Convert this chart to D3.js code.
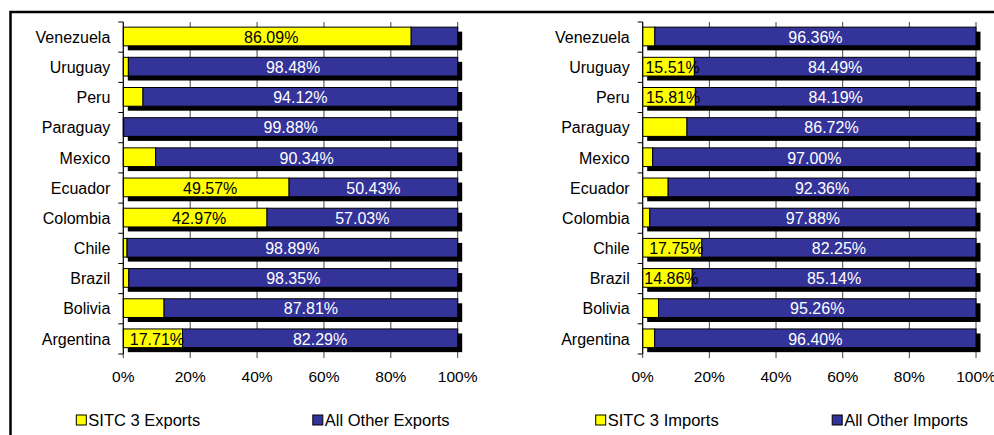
<!DOCTYPE html>
<html>
<head>
<meta charset="utf-8">
<title>SITC 3 share</title>
<script src="https://d3js.org/d3.v7.min.js"></script>
<style>
	body { margin: 0; background: #fff; }
	text { font-family: "Liberation Sans", Arial, sans-serif; }
</style>
</head>
<body>
<div id="wrapper"></div>
<script>
	// data (percent of total trade)
	var countries = ["Venezuela", "Uruguay", "Peru", "Paraguay", "Mexico", "Ecuador",
		"Colombia", "Chile", "Brazil", "Bolivia", "Argentina"];
	var sitcExports  = [86.09, 1.52, 5.88, 0.12, 9.66, 49.57, 42.97, 1.11, 1.65, 12.19, 17.71];
	var otherExports = [13.91, 98.48, 94.12, 99.88, 90.34, 50.43, 57.03, 98.89, 98.35, 87.81, 82.29];
	var sitcImports  = [3.64, 15.51, 15.81, 13.28, 3.00, 7.64, 2.12, 17.75, 14.86, 4.74, 3.60];
	var otherImports = [96.36, 84.49, 84.19, 86.72, 97.00, 92.36, 97.88, 82.25, 85.14, 95.26, 96.40];
	var xTicks = [0, 20, 40, 60, 80, 100];
	var exportNames = ["SITC 3 Exports", "All Other Exports"];
	var importNames = ["SITC 3 Imports", "All Other Imports"];

	var w = 994;
	var h = 435;
	var yellow = "#ffff00";
	var blue = "#333399";
	var fontSize = "16px";

	var svg = d3.select("#wrapper")
				.append("svg")
				.attr("width", w)
				.attr("height", h);

	// frame (top and left edges of the chart area)
	svg.append("path")
		.attr("d", "M10.5,435V12H994")
		.style("fill", "none")
		.style("stroke", "black")
		.style("stroke-width", 2.5);

	var y = d3.scaleBand()
			.domain(countries)
			.range([22, 354]);

	function panel(left, right, share, other, names) {
		var x = d3.scaleLinear().domain([0, 100]).range([left, right]);
		var bw = y.bandwidth();
		var barY = function(c) { return y(c) + bw * 0.17; };
		var barH = bw * 0.62;
		var g = svg.append("g");

		// vertical gridlines, continuing below as axis ticks
		g.selectAll("line.grid")
			.data(xTicks)
			.enter()
			.append("line")
			.attr("x1", function(d) { return x(d); })
			.attr("x2", function(d) { return x(d); })
			.attr("y1", 22)
			.attr("y2", 358)
			.style("stroke", "#444")
			.style("stroke-width", 1);

		// shadows
		g.selectAll("rect.shadow")
			.data(countries)
			.enter()
			.append("rect")
			.attr("x", x(0) + 4.5)
			.attr("y", function(c) { return barY(c) + 4.5; })
			.attr("width", x(100) - x(0))
			.attr("height", barH)
			.style("fill", "black");

		// SITC 3 segments
		g.selectAll("rect.share")
			.data(countries)
			.enter()
			.append("rect")
			.attr("x", x(0))
			.attr("y", barY)
			.attr("width", function(c, i) { return x(share[i]) - x(0); })
			.attr("height", barH)
			.style("fill", yellow)
			.style("stroke", "black");

		// other segments
		g.selectAll("rect.other")
			.data(countries)
			.enter()
			.append("rect")
			.attr("x", function(c, i) { return x(share[i]); })
			.attr("y", barY)
			.attr("width", function(c, i) { return x(100) - x(share[i]); })
			.attr("height", barH)
			.style("fill", blue)
			.style("stroke", "black");

		// data labels (only the wide segments carry one)
		countries.forEach(function(c, i) {
			var cy = y(c) + bw / 2;
			if (share[i] >= 14.5) {
				g.append("text")
					.attr("x", x(share[i] / 2) + 4)
					.attr("y", cy)
					.attr("dy", "0.36em")
					.attr("text-anchor", "middle")
					.style("font-size", fontSize)
					.style("fill", "black")
					.text(share[i].toFixed(2) + "%");
			}
			if (other[i] >= 14.5) {
				g.append("text")
					.attr("x", x(share[i] + other[i] / 2))
					.attr("y", cy)
					.attr("dy", "0.36em")
					.attr("text-anchor", "middle")
					.style("font-size", fontSize)
					.style("fill", "white")
					.text(other[i].toFixed(2) + "%");
			}
		});

		// category axis
		g.append("line")
			.attr("x1", x(0)).attr("x2", x(0))
			.attr("y1", 22).attr("y2", 354)
			.style("stroke", "black");
		g.selectAll("line.ytick")
			.data(countries.concat([null]))
			.enter()
			.append("line")
			.attr("x1", x(0) - 5)
			.attr("x2", x(0))
			.attr("y1", function(c) { return c === null ? 354 : y(c); })
			.attr("y2", function(c) { return c === null ? 354 : y(c); })
			.style("stroke", "black");
		g.selectAll("text.cat")
			.data(countries)
			.enter()
			.append("text")
			.attr("x", x(0) - 13)
			.attr("y", function(c) { return y(c) + bw / 2; })
			.attr("dy", "0.36em")
			.attr("text-anchor", "end")
			.style("font-size", fontSize)
			.text(function(c) { return c; });

		// value axis labels
		g.selectAll("text.xtick")
			.data(xTicks)
			.enter()
			.append("text")
			.attr("x", function(d) { return x(d); })
			.attr("y", 382)
			.attr("text-anchor", "middle")
			.style("font-size", "15.5px")
			.text(function(d) { return d + "%"; });

		// legend
		var items = [
			{ name: names[0], color: yellow, at: x(0) - 47 },
			{ name: names[1], color: blue, at: x(0) + 189.5 }
		];
		var lg = g.selectAll("g.legend")
			.data(items)
			.enter()
			.append("g")
			.attr("transform", function(d) { return "translate(" + d.at + ",415)"; });
		lg.append("rect")
			.attr("width", 10)
			.attr("height", 10)
			.style("fill", function(d) { return d.color; })
			.style("stroke", "black");
		lg.append("text")
			.attr("x", 12)
			.attr("y", 11)
			.style("font-size", "16.5px")
			.text(function(d) { return d.name; });
	}

	panel(123.3, 457.7, sitcExports, otherExports, exportNames);
	panel(642.7, 976, sitcImports, otherImports, importNames);
</script>
</body>
</html>
